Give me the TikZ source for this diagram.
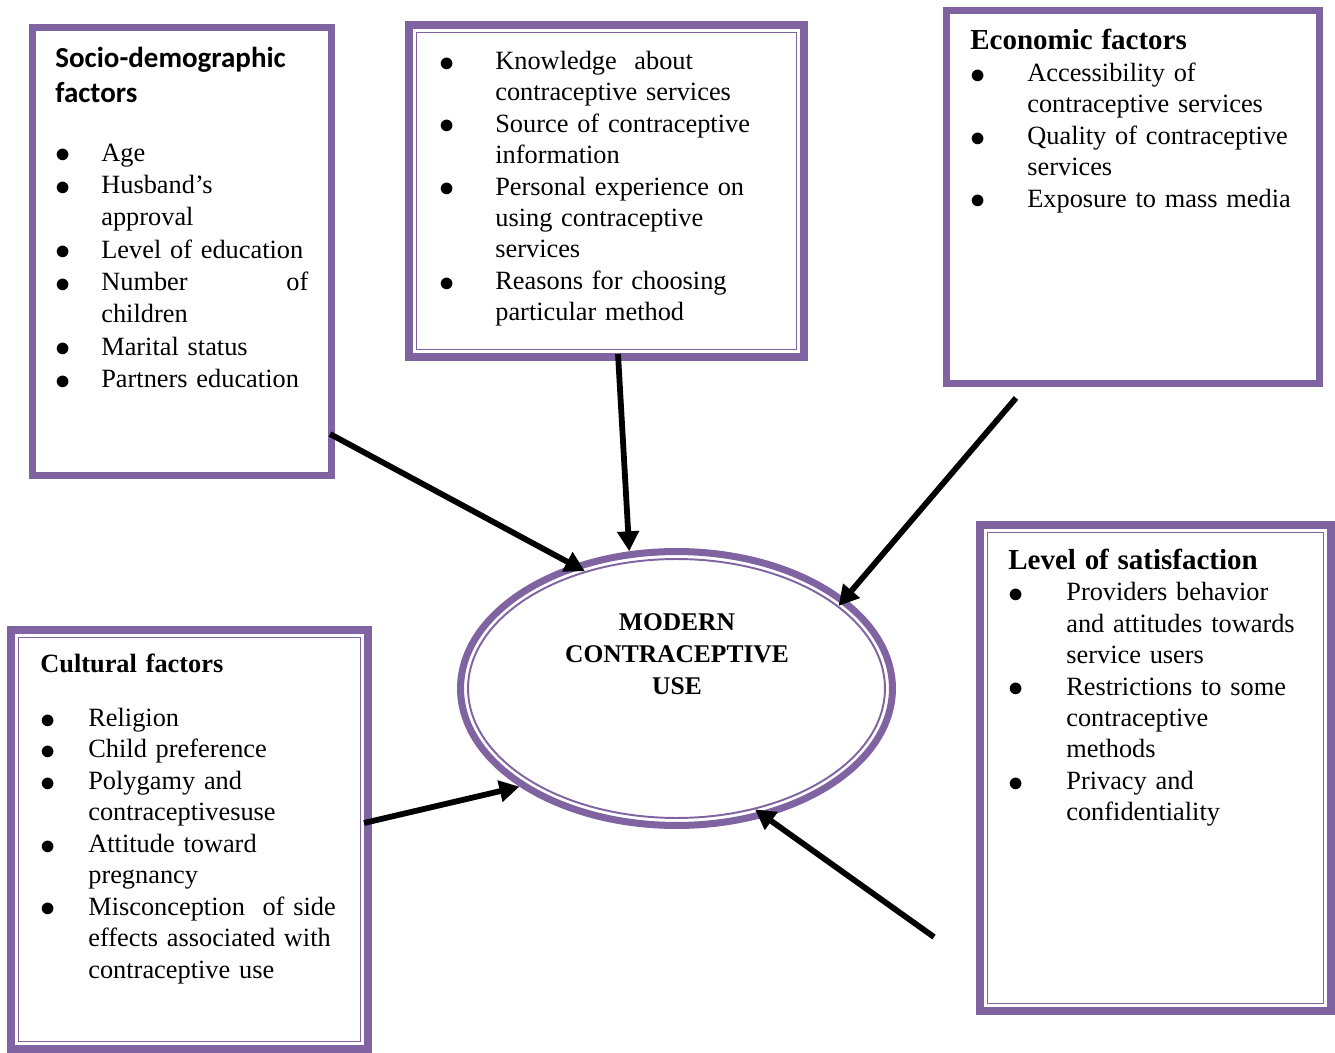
\documentclass[tikz,border=0pt]{standalone}
\usepackage{fontspec}
\setmainfont{Liberation Serif}
\newfontfamily\headfont{Carlito}
\usetikzlibrary{arrows.meta,shapes.geometric}
\definecolor{boxpurple}{HTML}{8064A2}
\newcommand{\li}[2][0.92cm]{\hangindent=#1\hangafter=1\noindent\makebox[#1][l]{\raisebox{-1pt}{\fontsize{19}{15}\selectfont$\bullet$}}#2\par}
\begin{document}
\begin{tikzpicture}[x=0.02cm,y=-0.02cm,
        box/.style={draw=boxpurple,line width=4pt,inner sep=0pt},
        dbox/.style={draw=boxpurple,line width=4.4pt,inner sep=0pt},
        inline/.style={draw=boxpurple,line width=0.9pt},
        txt/.style={anchor=base west,inner sep=0pt,align=left,font=\fontsize{15}{17.9}\selectfont},
        arrow/.style={line width=3.3pt,-{Triangle[length=0.4cm,width=0.42cm]}}]
        \useasboundingbox (0,0) rectangle (1335,1053);

        \node[box,minimum width=5.98cm,minimum height=8.96cm] (socio) at (182,251.5) {};
        \node[dbox,minimum width=7.9cm,minimum height=6.64cm] (know) at (606.5,191) {};
        \node[box,minimum width=7.46cm,minimum height=7.46cm] (econ) at (1133,197) {};
        \node[dbox,minimum width=7.14cm,minimum height=8.38cm] (cult) at (189.5,839.5) {};
        \node[dbox,minimum width=7.02cm,minimum height=9.72cm] (sat) at (1155.5,768) {};
        \draw[inline] ([shift={(0.23cm,-0.23cm)}]know.north west) rectangle ([shift={(-0.23cm,0.23cm)}]know.south east);
        \draw[inline] ([shift={(0.23cm,-0.23cm)}]cult.north west) rectangle ([shift={(-0.23cm,0.23cm)}]cult.south east);
        \draw[inline] ([shift={(0.23cm,-0.23cm)}]sat.north west) rectangle ([shift={(-0.23cm,0.23cm)}]sat.south east);

        \node[draw=boxpurple,line width=4pt,ellipse,inner sep=0pt,minimum width=8.64cm,minimum height=5.48cm] (use) at (676.5,688.5) {};
        \node[draw=boxpurple,line width=1.1pt,ellipse,inner sep=0pt,minimum width=8.34cm,minimum height=5.18cm] (useinner) at (use.center) {};
        \node[anchor=base,inner sep=0pt,text width=6cm,align=center,font=\bfseries\fontsize{14.5}{18.4}\selectfont] (usetext) at (677,630) {MODERN\\CONTRACEPTIVE\\USE};

        \node[txt,text width=5.06cm,font=\fontsize{15}{18.4}\selectfont] (sociotext) at (55,68) {{\headfont\bfseries\fontsize{16.5}{19.8}\selectfont Socio-demographic\newline factors\par}\vspace{14.8pt}
            \li{Age}\li{Husband’s\newline approval}\li{Level of education}\li{Number\hfill of\newline children}\li{Marital status}\li{Partners education}};
        \node[txt,text width=7cm] (knowtext) at (439,69.3) {\li[1.12cm]{Knowledge~ about\newline contraceptive services}\li[1.12cm]{Source of contraceptive\newline information}
            \li[1.12cm]{Personal experience on\newline using contraceptive\newline services}\li[1.12cm]{Reasons for choosing\newline particular method}};
        \node[txt,text width=7cm] (econtext) at (970,50) {{\bfseries\fontsize{16.5}{17.9}\selectfont Economic factors\par}
            \li[1.14cm]{Accessibility of\newline contraceptive services}\li[1.14cm]{Quality of contraceptive\newline services}\li[1.14cm]{Exposure to mass media}};
        \node[txt,text width=6.6cm] (culttext) at (40,672.7) {{\bfseries Cultural factors\par}\vspace{12.7pt}
            \li[0.96cm]{Religion}\li[0.96cm]{Child preference}\li[0.96cm]{Polygamy and\newline contraceptivesuse}\li[0.96cm]{Attitude toward\newline pregnancy}
            \li[0.96cm]{Misconception~ of side\newline effects associated with\newline contraceptive use}};
        \node[txt,text width=6.4cm] (sattext) at (1008,569.3) {{\bfseries\fontsize{16.5}{17.9}\selectfont Level of satisfaction\par}
            \li[1.16cm]{Providers behavior\newline and attitudes towards\newline service users}\li[1.16cm]{Restrictions to some\newline contraceptive\newline methods}
            \li[1.16cm]{Privacy and\newline confidentiality}};

        \coordinate (s1) at (330,434);
        \coordinate (s2) at (618,354);
        \coordinate (s3) at (1016,398);
        \coordinate (s4) at (364,823);
        \coordinate (s5) at (934,937);
        \draw[arrow] (s1) -- (useinner.128.7);
        \draw[arrow] (s2) -- (use.109.4);
        \draw[arrow] (s3) -- (useinner.27.2);
        \draw[arrow] (s4) -- (use.212.5);
        \draw[arrow] (s5) -- (useinner.303.4);
    \end{tikzpicture}
\end{document}
